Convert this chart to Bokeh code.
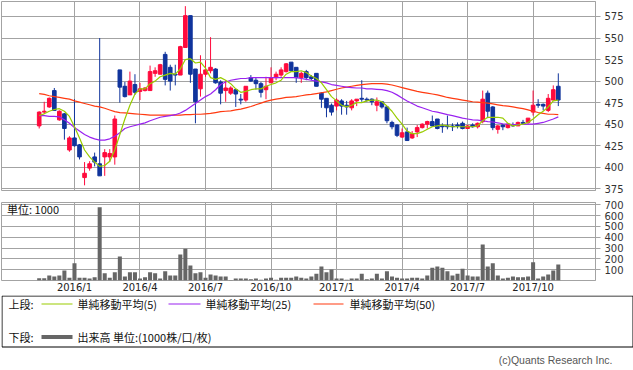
import numpy as np
import pandas as pd
from bokeh.plotting import figure
from bokeh.models import ColumnDataSource, Range1d, FixedTicker, Label
from bokeh.layouts import column
from bokeh.embed import file_html
from bokeh.resources import INLINE
from bokeh.core.properties import value

# ---------------- data (weekly candles) ----------------
start_date = "2015-11-16"
quarter_months = [1, 4, 7, 10]

open_ = [448, 464, 470, 489, 455, 462, 420, 434, 426, 388,
         399, 412, 404, 412, 412, 412, 513, 494, 484, 496,
         488, 489, 489, 509, 508, 531, 516, 508, 507, 539,
         576, 514, 491, 508, 512, 514, 499, 489, 486, 490,
         479, 478, 504, 501, 497, 490, 498, 504, 507, 511,
         522, 516, 504, 511, 505, 509, 486, 480, 472, 471,
         477, 472, 469, 477, 480, 479, 479, 472, 476, 470,
         452, 449, 435, 441, 434, 441, 446, 450, 453, 456,
         448, 448, 448, 449, 451, 445, 449, 447, 453, 486,
         470, 444, 449, 446, 449, 448, 452, 452, 464, 473,
         473, 466, 478, 494]
high = [465, 476, 481, 492, 466, 463, 436, 479, 427, 406,
        407, 417, 550, 421, 421, 460, 513, 499, 511, 508,
        498, 493, 518, 516, 520, 534, 519, 519, 541, 587,
        576, 514, 530, 524, 551, 515, 501, 501, 494, 491,
        485, 494, 507, 504, 499, 505, 516, 511, 516, 521,
        522, 516, 511, 513, 507, 509, 487, 480, 474, 480,
        479, 477, 479, 479, 501, 481, 480, 481, 477, 471,
        454, 450, 445, 446, 442, 449, 451, 454, 460, 456,
        451, 460, 451, 452, 453, 449, 451, 452, 489, 489,
        471, 449, 450, 451, 452, 453, 455, 457, 489, 479,
        474, 485, 495, 509]
low = [445, 462, 469, 466, 454, 432, 418, 424, 409, 379,
       396, 401, 390, 390, 406, 403, 475, 481, 484, 484,
       478, 488, 489, 505, 508, 495, 489, 495, 507, 539,
       498, 451, 482, 505, 509, 497, 473, 476, 484, 470,
       473, 476, 499, 490, 481, 479, 498, 501, 505, 510,
       511, 498, 498, 501, 501, 494, 469, 458, 460, 466,
       461, 461, 466, 471, 476, 476, 472, 465, 468, 451,
       444, 435, 434, 431, 433, 435, 445, 445, 447, 444,
       440, 444, 442, 445, 444, 445, 446, 445, 451, 457,
       443, 439, 443, 445, 447, 448, 450, 450, 460, 469,
       466, 464, 478, 471]
close = [464, 465, 480, 466, 465, 445, 434, 425, 412, 393,
         404, 406, 390, 417, 416, 456, 493, 482, 500, 487,
         491, 492, 511, 512, 519, 502, 500, 507, 540, 576,
         508, 476, 508, 513, 516, 498, 486, 492, 492, 485,
         478, 494, 500, 497, 487, 494, 504, 508, 513, 520,
         512, 504, 509, 504, 503, 494, 479, 469, 464, 478,
         471, 470, 477, 479, 479, 478, 476, 476, 470, 454,
         447, 437, 440, 431, 439, 446, 450, 453, 448, 445,
         447, 447, 447, 448, 445, 448, 447, 451, 479, 465,
         446, 448, 447, 450, 448, 452, 451, 457, 472, 472,
         471, 480, 490, 478]
volume = [21, 21, 46, 37, 46, 92, 25, 160, 25, 25,
          18, 31, 677, 68, 25, 77, 222, 37, 77, 77,
          18, 31, 77, 68, 18, 86, 46, 46, 240, 292,
          138, 68, 77, 25, 55, 46, 37, 37, 5, 18,
          18, 18, 12, 18, 6, 18, 25, 6, 25, 25,
          25, 37, 25, 18, 37, 62, 129, 77, 102, 18,
          18, 6, 18, 18, 62, 12, 18, 62, 18, 86,
          37, 25, 18, 18, 25, 25, 18, 46, 117, 129,
          117, 86, 46, 62, 108, 46, 37, 37, 332, 129,
          160, 46, 18, 25, 37, 31, 31, 37, 169, 18,
          37, 55, 92, 148]
ma5 = [460, 462, 465, 467, 468, 465, 459, 447, 434, 420,
       412, 406, 401, 402, 407, 420, 438, 456, 472, 485,
       491, 491, 497, 500, 505, 507, 509, 508, 514, 525,
       526, 521, 522, 515, 504, 502, 504, 501, 497, 491,
       487, 488, 490, 491, 491, 494, 496, 498, 501, 508,
       511, 511, 512, 510, 506, 503, 498, 490, 482, 477,
       472, 470, 472, 475, 475, 477, 478, 478, 476, 471,
       465, 457, 450, 442, 439, 439, 441, 444, 447, 448,
       449, 448, 447, 447, 447, 447, 447, 448, 454, 458,
       458, 458, 457, 451, 448, 449, 450, 452, 456, 461,
       465, 470, 477, 478]
ma25 = [460, 460, 459, 459, 458.5, 455, 451, 446, 442, 438,
        435, 433, 431.5, 431.5, 433, 436, 440, 445, 447, 448.5,
        450, 451.5, 454, 456, 458, 459, 460, 461, 463, 466,
        470, 474, 478, 482, 485, 490, 496, 499, 501, 502,
        503, 503, 504, 504, 504, 504, 504, 504, 504, 504,
        504, 504, 503, 502, 501, 500, 499, 498, 496, 495,
        494, 493, 492.5, 492, 492, 491, 491, 490.5, 490, 489,
        487, 484, 480.5, 477, 474, 471, 469, 467, 465, 464,
        462.5, 461, 460, 458.5, 457, 456, 455, 454.6, 454, 453,
        452.5, 451.5, 450.5, 450, 449.6, 449.6, 449.6, 450, 450, 451,
        452, 454, 456, 458.5]
ma50 = [485.5, 484.5, 483, 482, 481, 480, 479, 477, 475.5, 474,
        472.5, 471, 470, 468.5, 466.5, 464.5, 463.5, 463, 462.5, 462,
        461.5, 461, 460.5, 460.5, 460.5, 460.5, 460.5, 460.5, 460.5, 461,
        461, 461.5, 461.5, 462, 462.5, 463.5, 464.5, 465, 465.5, 466.5,
        467.5, 469, 470.5, 472.5, 474.5, 476.5, 478, 479, 480, 481,
        481.5, 482, 483, 484, 484.5, 485.5, 486.5, 487.5, 489, 490.5,
        492, 493, 494, 495, 496, 496.5, 497, 497, 497, 496.5,
        495.5, 494, 492.5, 491, 489.5, 488, 487, 486, 485, 484,
        482.5, 481, 480, 479, 478, 477, 476, 475.5, 475, 474.5,
        473.5, 472.5, 471.5, 471, 470, 469, 468, 466.5, 465, 463.5,
        462.5, 461.5, 461.5, 461]
price_ticks = [375, 400, 425, 450, 475, 500, 525, 550, 575]
volume_ticks = [100, 200, 300, 400, 500, 600, 700]

legend_top = "上段:"
legend_bottom = "下段:"
ma_labels = ["単純移動平均(5)", "単純移動平均(25)", "単純移動平均(50)"]
vol_label = "出来高 単位:(1000株/口/枚)"
unit_label = "単位: 1000"
copyright_text = "(c)Quants Research Inc."

# ---------------- derived ----------------
n = len(close)
idx = np.arange(n)
dates = pd.date_range(start_date, periods=n, freq="7D")
ticks, tick_labels = [], {}
for i in range(1, n):
    if dates[i].month != dates[i - 1].month and dates[i].month in quarter_months:
        ticks.append(i)
        tick_labels[i] = f"{dates[i].year}/{dates[i].month}"

RED = "#ff0a3c"
BLUE = "#10349c"
GREEN_MA = "#99cc00"
PURPLE_MA = "#9a22f0"
RED_MA = "#ff3a10"
VOLC = "#666666"
GRID = "#a3a3a3"
NUMFONT = "DejaVu Sans"
JPFONT = "Noto Sans CJK JP"

o = np.array(open_, float)
c = np.array(close, float)
h = np.array(high, float)
l = np.array(low, float)
src = ColumnDataSource(dict(
    x=idx, top=np.maximum(o, c), bottom=np.minimum(o, c),
    hi=np.maximum(h, np.maximum(o, c)), lo=np.minimum(l, np.minimum(o, c)),
    color=[RED if cc >= oo else BLUE for oo, cc in zip(o, c)],
    vol=volume,
))

xr = Range1d(-7.48, n - 1 + 7.38)


def style_common(p):
    p.outline_line_color = GRID
    p.outline_line_width = 1
    p.background_fill_color = "white"
    p.border_fill_color = "white"
    for ax in p.yaxis:
        ax.axis_line_color = GRID
        ax.major_tick_line_color = GRID
        ax.major_tick_out = 5
        ax.major_tick_in = 0
        ax.minor_tick_line_color = None
        ax.major_label_standoff = 4
        ax.major_label_text_font = NUMFONT
        ax.major_label_text_font_size = "10px"
        ax.major_label_text_color = "#333333"
    p.ygrid.grid_line_color = GRID
    p.xgrid.grid_line_color = GRID
    p.xgrid.ticker = FixedTicker(ticks=ticks)


# ---------------- price panel ----------------
p1 = figure(width=633, height=197, x_range=xr, y_range=Range1d(373, 592.4),
            x_axis_location=None, y_axis_location="right",
            toolbar_location=None, output_backend="svg",
            min_border_left=1, min_border_right=38, min_border_top=1, min_border_bottom=7)
p1.yaxis.ticker = FixedTicker(ticks=price_ticks)
style_common(p1)

p1.segment(x0="x", y0="lo", x1="x", y1="hi", line_color="color", line_width=1, source=src)
p1.vbar(x="x", width=0.72, top="top", bottom="bottom", fill_color="color",
        line_color="color", line_width=1, source=src)
p1.line(idx, ma50, line_color=RED_MA, line_width=1.2)
p1.line(idx, ma25, line_color=PURPLE_MA, line_width=1.2)
p1.line(idx, ma5, line_color=GREEN_MA, line_width=1.2)

# ---------------- volume panel ----------------
p2 = figure(width=633, height=98, x_range=xr, y_range=Range1d(0, 720),
            y_axis_location="right", toolbar_location=None, output_backend="svg",
            min_border_left=1, min_border_right=38, min_border_top=5, min_border_bottom=15)
p2.yaxis.ticker = FixedTicker(ticks=volume_ticks)
style_common(p2)
p2.xaxis.ticker = FixedTicker(ticks=ticks)
p2.xaxis.major_label_overrides = tick_labels
p2.xaxis.axis_line_color = None
p2.xaxis.major_tick_out = 0
p2.xaxis.major_tick_in = 0
p2.xaxis.minor_tick_line_color = None
p2.xaxis.major_label_standoff = 1
p2.xaxis.major_label_text_font = NUMFONT
p2.xaxis.major_label_text_font_size = "10px"
p2.xaxis.major_label_text_color = "#222222"

p2.vbar(x="x", width=0.8, top="vol", bottom=0, fill_color=VOLC, line_color=None, source=src)
p2.add_layout(Label(x=xr.start + 1.1, y=664, text=unit_label, text_font=JPFONT,
                    text_font_size="11px", text_baseline="middle", text_color="#111111"))

# ---------------- legend panel ----------------
p3 = figure(frame_width=633, frame_height=75, x_range=Range1d(0, 633), y_range=Range1d(75, 0),
            x_axis_location=None, y_axis_location=None, toolbar_location=None,
            output_backend="svg", min_border=0)
p3.outline_line_color = None
p3.xgrid.visible = False
p3.ygrid.visible = False
p3.quad(left=[0.5], right=[631.5], top=[0.5], bottom=[51.5], fill_color=None,
        line_color="black", line_width=1)
row1, row2 = 8.5, 41.5
p3.segment(x0=[40, 167, 312], y0=[row1] * 3, x1=[71, 199, 342], y1=[row1] * 3,
           line_color=[GREEN_MA, PURPLE_MA, RED_MA], line_width=1.2)
p3.segment(x0=[40], y0=[row2], x1=[71], y1=[row2], line_color=VOLC, line_width=4)
p3.text(x=[7, 76, 204, 348, 7, 76], y=[row1] * 4 + [row2] * 2,
        text=[legend_top] + ma_labels + [legend_bottom, vol_label],
        text_font=value(JPFONT), text_font_size="11px", text_baseline="middle",
        text_align="left", text_color="#111111")
p3.text(x=[611], y=[64], text=[copyright_text], text_font=value("Liberation Sans"),
        text_font_size="10.5px", text_baseline="middle", text_align="right",
        text_color="#555555")

layout = column(p1, p2, p3, spacing=0)

open("out.html", "w").write(file_html(layout, INLINE))
